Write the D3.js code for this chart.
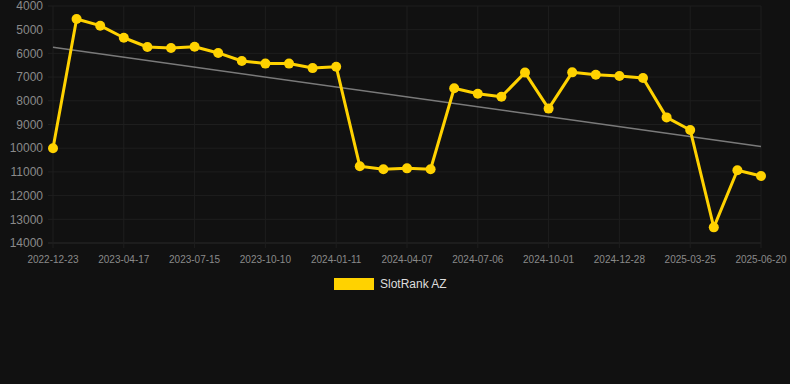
<!DOCTYPE html>
<html>
<head>
<meta charset="utf-8">
<script src="https://cdn.jsdelivr.net/npm/d3@7"></script>
<style>
  html, body { margin: 0; padding: 0; background: #111111; }
  svg { display: block; font-family: "Liberation Sans", Arial, sans-serif; }
</style>
</head>
<body>
<svg id="chart"></svg>
<script>
// dates for each point (only every third one is labelled on the axis)
var dates = [
  "2022-12-23", "2023-01-31", "2023-03-10", "2023-04-17", "2023-05-17", "2023-06-15",
  "2023-07-15", "2023-08-13", "2023-09-11", "2023-10-10", "2023-11-10", "2023-12-11",
  "2024-01-11", "2024-02-08", "2024-03-08", "2024-04-07", "2024-05-07", "2024-06-06",
  "2024-07-06", "2024-08-03", "2024-09-02", "2024-10-01", "2024-10-30", "2024-11-28",
  "2024-12-28", "2025-01-25", "2025-02-23", "2025-03-25", "2025-04-21", "2025-05-20",
  "2025-06-20"
]
var rank = [
  10000, 4550, 4830, 5340, 5730, 5770, 5720, 5980, 6320, 6430, 6430, 6620, 6560,
  10760, 10890, 10850, 10890, 7470, 7700, 7830, 6810, 8330, 6800, 6900, 6950, 7040,
  8700, 9230, 13340, 10930, 11170
]
var yTicks = [4000, 5000, 6000, 7000, 8000, 9000, 10000, 11000, 12000, 13000, 14000]
var seriesName = "SlotRank AZ"

var width = 790
var height = 384
var margin = {left: 53, right: 29, top: 6, bottom: 141}

var svg = d3.select("#chart")
    .attr("width", width)
    .attr("height", height)

var x = d3.scalePoint()
    .domain(dates)
    .range([margin.left, width - margin.right])

var y = d3.scaleLinear()
    .domain([4000, 14000])
    .range([margin.top, height - margin.bottom])

// grid
var grid = svg.append("g")
grid.selectAll("line.h")
    .data(yTicks)
    .enter()
    .append("line")
    .attr("x1", margin.left - 5)
    .attr("x2", width - margin.right)
    .attr("y1", d => y(d))
    .attr("y2", d => y(d))
    .attr("stroke", d => d === 14000 ? "#2a2a2a" : "#1e1e1e")
    .attr("stroke-width", 1)

var labelled = dates.filter((d, i) => i % 3 === 0)
grid.selectAll("line.v")
    .data(labelled)
    .enter()
    .append("line")
    .attr("x1", d => x(d))
    .attr("x2", d => x(d))
    .attr("y1", margin.top)
    .attr("y2", height - margin.bottom + 5)
    .attr("stroke", "#1e1e1e")
    .attr("stroke-width", 1)

// y axis labels
svg.append("g")
    .selectAll("text")
    .data(yTicks)
    .enter()
    .append("text")
    .attr("x", margin.left - 10)
    .attr("y", d => y(d))
    .attr("dy", "0.35em")
    .attr("text-anchor", "end")
    .attr("font-size", 12)
    .attr("fill", "#8a8a8a")
    .text(d => d)

// x axis labels
svg.append("g")
    .selectAll("text")
    .data(labelled)
    .enter()
    .append("text")
    .attr("x", d => x(d))
    .attr("y", height - margin.bottom + 16)
    .attr("dy", "0.35em")
    .attr("text-anchor", "middle")
    .attr("font-size", 10)
    .attr("fill", "#8a8a8a")
    .text(d => d)

// trend line (least squares over point index)
var n = rank.length
var mx = d3.mean(rank, (d, i) => i)
var my = d3.mean(rank)
var sxy = d3.sum(rank, (d, i) => (i - mx) * (d - my))
var sxx = d3.sum(rank, (d, i) => (i - mx) * (i - mx))
var slope = sxy / sxx
var icpt = my - slope * mx

svg.append("line")
    .attr("x1", x(dates[0]))
    .attr("y1", y(icpt))
    .attr("x2", x(dates[n - 1]))
    .attr("y2", y(icpt + slope * (n - 1)))
    .attr("stroke", "#7a7a7a")
    .attr("stroke-width", 1.5)

// series
var line = d3.line()
    .x((d, i) => x(dates[i]))
    .y(d => y(d))

svg.append("path")
    .datum(rank)
    .attr("d", line)
    .attr("fill", "none")
    .attr("stroke", "#ffd200")
    .attr("stroke-width", 3)
    .attr("stroke-linejoin", "round")

svg.append("g")
    .selectAll("circle")
    .data(rank)
    .enter()
    .append("circle")
    .attr("cx", (d, i) => x(dates[i]))
    .attr("cy", d => y(d))
    .attr("r", 5)
    .attr("fill", "#ffd200")

// legend
var legend = svg.append("g")
legend.append("rect")
    .attr("x", 334)
    .attr("y", 278)
    .attr("width", 40)
    .attr("height", 12)
    .attr("fill", "#ffd200")
legend.append("text")
    .attr("x", 380)
    .attr("y", 284)
    .attr("dy", "0.35em")
    .attr("font-size", 12)
    .attr("fill", "#dddddd")
    .text(seriesName)
</script>
</body>
</html>
